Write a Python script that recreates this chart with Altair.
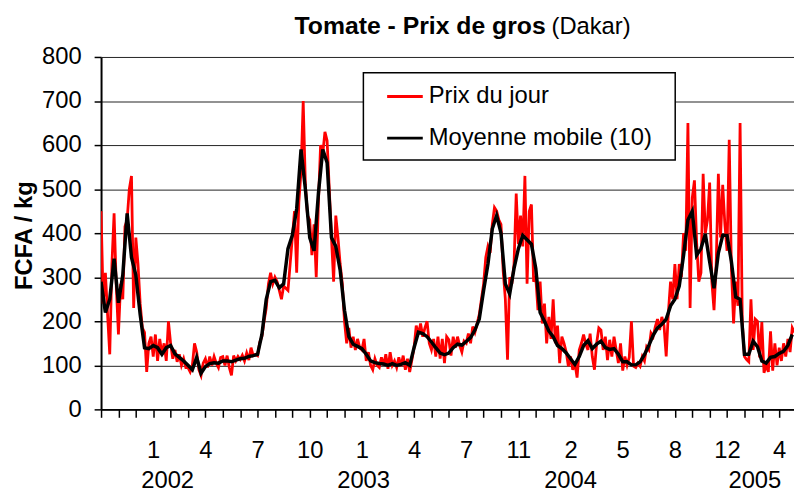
import altair as alt
import pandas as pd
import numpy as np

FONT = "Liberation Sans"

# Prix du jour (FCFA/kg), 8 relevés par intervalle de graduation (mois)
prix_jour = [
    450, 240, 310, 215, 125, 330, 445, 280,
    170, 285, 250, 415, 430, 500, 530, 230,
    390, 330, 240, 185, 175, 85, 150, 165,
    120, 170, 110, 160, 125, 150, 110, 200,
    150, 115, 135, 108, 125, 100, 115, 95,
    95, 85, 100, 150, 130, 90, 77, 105,
    115, 95, 120, 100, 120, 105, 95, 118,
    120, 100, 122, 95, 77, 122, 110, 120,
    113, 123, 110, 128, 112, 140, 122, 125,
    122, 152, 165, 200, 230, 285, 310, 285,
    300, 290, 270, 250, 280, 275, 270, 330,
    390, 450, 310, 470, 540, 700, 510, 440,
    430, 350, 420, 300, 470, 600, 580, 630,
    610, 500, 390, 290, 440, 390, 330, 285,
    200, 150, 185, 140, 165, 135, 160, 140,
    135, 160, 110, 130, 100, 90, 115, 100,
    95, 118, 100, 125, 92, 130, 100, 110,
    95, 118, 98, 122, 90, 115, 85, 112,
    140, 190, 170, 195, 165, 185, 200, 150,
    135, 160, 120, 165, 115, 160, 105, 165,
    158, 122, 165, 140, 165, 145, 130, 155,
    150, 172, 150, 188, 175, 195, 215, 250,
    285, 345, 370, 355, 420, 458, 450, 430,
    420, 315, 250, 113, 300, 285, 330, 490,
    375, 440, 370, 530, 285, 450, 465, 290,
    300, 225, 290, 195, 240, 150, 210, 160,
    250, 150, 190, 105, 165, 150, 130, 98,
    120, 90, 105, 72, 135, 150, 170, 148,
    135, 172, 120, 90, 150, 185, 180, 135,
    165, 112, 158, 120, 165, 135, 105, 150,
    88, 120, 100, 118, 200, 98, 95, 105,
    98, 120, 110, 142, 135, 173, 165, 188,
    205, 180, 210, 190, 120, 220, 290, 250,
    330, 250, 330, 300, 400, 360, 650, 230,
    480, 520, 380, 290, 310, 535, 400, 430,
    515, 290, 225, 330, 535, 390, 510, 420,
    360, 612, 320, 195, 290, 235, 650, 200,
    120, 113, 108, 250, 135, 205, 200, 118,
    198, 83, 100, 85, 177, 88, 150, 100,
    140, 110, 150, 120, 160, 130, 185, 175,
]

# Moyenne mobile (10), 4 relevés par intervalle de graduation
moyenne_mobile = [
    290, 220, 250, 342,
    242, 305, 445, 345,
    305, 215, 140, 138,
    145, 140, 125, 140,
    145, 126, 118, 110,
    100, 90, 118, 82,
    97, 104, 106, 105,
    110, 110, 108, 112,
    115, 116, 120, 122,
    125, 170, 250, 290,
    293, 276, 285, 365,
    395, 455, 590, 500,
    390, 360, 490, 590,
    560, 390, 370, 316,
    225, 165, 148, 143,
    138, 125, 110, 106,
    104, 103, 100, 104,
    100, 102, 106, 100,
    140, 175, 172, 165,
    153, 140, 128, 124,
    128, 140, 148, 146,
    154, 163, 180, 205,
    270, 330, 410, 440,
    400, 285, 262, 320,
    365, 395, 385, 375,
    320, 220, 200, 178,
    165, 145, 138, 128,
    115, 102, 120, 145,
    156, 138, 148, 155,
    140, 136, 138, 125,
    108, 108, 101, 101,
    108, 124, 145, 168,
    185, 193, 205, 235,
    250, 280, 350, 430,
    450, 350, 365, 398,
    335, 275, 355, 395,
    395, 335, 255, 250,
    125, 125, 155, 142,
    110, 105, 118, 120,
    127, 132, 145, 170,
]

mois_labels = ["", "", "", "1", "", "", "4", "", "", "7", "", "", "10", "", "", "1",
               "", "", "4", "", "", "7", "", "", "11", "", "", "2", "", "", "5",
               "", "", "8", "", "", "12", "", "", "4"]
annees = ["2002", "2003", "2004", "2005"]
annees_pos = [3.83, 15.1, 27.0, 37.6]
y_ticks = [0, 100, 200, 300, 400, 500, 600, 700, 800]

X_MAX = 39.85

df_r = pd.DataFrame({"mois": np.arange(len(prix_jour)) / 8.0, "prix": prix_jour})
df_b = pd.DataFrame({"mois": np.arange(len(moyenne_mobile)) / 4.0, "prix": moyenne_mobile})
df_y = pd.DataFrame({"mois": annees_pos, "annee": annees})
one = pd.DataFrame({"a": [0]})

xscale = alt.Scale(domain=[0, X_MAX], nice=False, zero=False)
yscale = alt.Scale(domain=[0, 800], nice=False)

label_expr = "[" + ",".join("'%s'" % s for s in mois_labels) + "][datum.value]"

x_axis = alt.Axis(values=list(range(len(mois_labels))), labelExpr=label_expr, title=None,
                  grid=False, tickSize=8, tickColor="black", tickWidth=1.5,
                  domainColor="black", domainWidth=2, labelFontSize=24, labelFont=FONT,
                  labelColor="black", labelPadding=22, labelFlush=False, labelOverlap=False)
y_axis = alt.Axis(values=y_ticks, title="FCFA / kg", titleFont=FONT, titleFontSize=24,
                  titleFontWeight="bold", titleColor="black", titleAngle=270,
                  titleX=-77, titleY=180, titleAlign="center", titleBaseline="middle",
                  grid=True, gridColor="#222222", gridWidth=1, tickSize=7, tickColor="black",
                  tickWidth=1.5, domainColor="black", domainWidth=2, labelFontSize=24,
                  labelFont=FONT, labelColor="black", labelPadding=13)

X = alt.X("mois:Q", scale=xscale, axis=x_axis)
Y = alt.Y("prix:Q", scale=yscale, axis=y_axis)

red = alt.Chart(df_r).mark_line(color="#ff0000", strokeWidth=2.8, clip=True).encode(x=X, y=Y)
black = alt.Chart(df_b).mark_line(color="#000000", strokeWidth=3.5, clip=True).encode(x=X, y=Y)

years = alt.Chart(df_y).mark_text(font=FONT, fontSize=24, baseline="alphabetic",
                                  align="center", color="black").encode(
    x=X, y=alt.value(435), text="annee:N")

box = alt.Chart(one).mark_rect(fill="white", stroke="black", strokeWidth=1.5).encode(
    x=alt.value(265), x2=alt.value(580), y=alt.value(16), y2=alt.value(104))
sym_r = alt.Chart(one).mark_rule(color="#ff0000", strokeWidth=3).encode(
    x=alt.value(289), x2=alt.value(325), y=alt.value(40))
sym_b = alt.Chart(one).mark_rule(color="#000000", strokeWidth=3).encode(
    x=alt.value(289), x2=alt.value(325), y=alt.value(82))
lab_r = alt.Chart(one).mark_text(font=FONT, fontSize=24, align="left", baseline="alphabetic",
                                 color="black").encode(
    x=alt.value(331), y=alt.value(47), text=alt.value("Prix du jour"))
lab_b = alt.Chart(one).mark_text(font=FONT, fontSize=24, align="left", baseline="alphabetic",
                                 color="black").encode(
    x=alt.value(331), y=alt.value(89), text=alt.value("Moyenne mobile (10)"))

title_b = alt.Chart(one).mark_text(font=FONT, fontSize=25, fontWeight="bold", align="left",
                                   baseline="alphabetic", color="black").encode(
    x=alt.value(195.5), y=alt.value(-23.5), text=alt.value("Tomate - Prix de gros"))
title_n = alt.Chart(one).mark_text(font=FONT, fontSize=24, align="left",
                                   baseline="alphabetic", color="black").encode(
    x=alt.value(455), y=alt.value(-23.5), text=alt.value("(Dakar)"))

chart = alt.layer(red, black, years, box, sym_r, sym_b, lab_r, lab_b, title_b, title_n).properties(
    width=700, height=356,
    autosize=alt.AutoSizeParams(type="none"),
    padding={"left": 94, "top": 47, "right": 0, "bottom": 81},
    background="white",
).configure_view(stroke=None)

chart.save("out.html", embed_options={"renderer": "svg", "actions": False})
